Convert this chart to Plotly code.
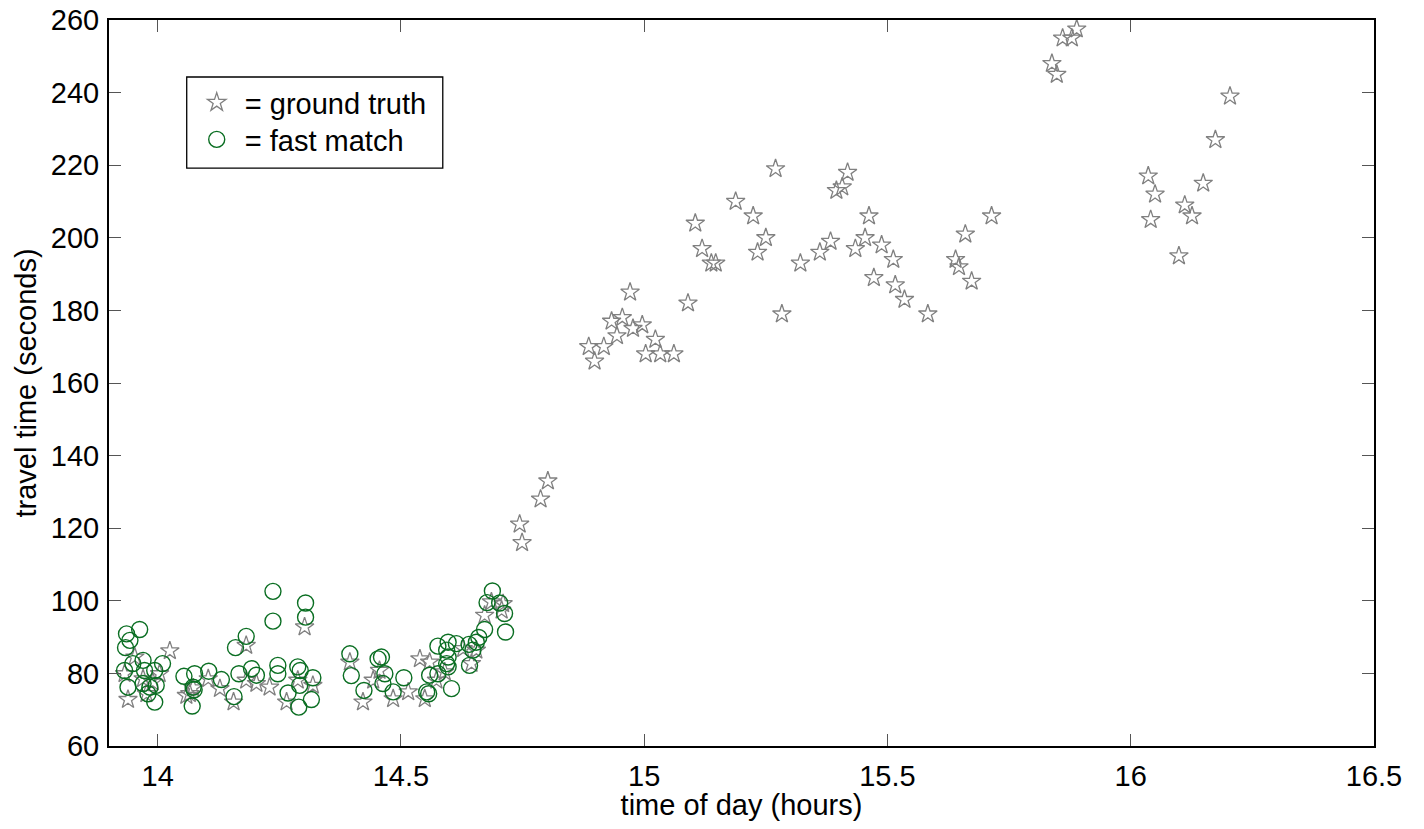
import plotly.graph_objects as go

# ground truth (stars)
gt_x = [13.932, 13.939, 13.953, 13.970, 13.977, 13.990, 14.004, 14.025, 14.059, 14.066,
        14.073, 14.104, 14.128, 14.156, 14.182, 14.182, 14.203, 14.230, 14.265, 14.288,
        14.302, 14.319, 14.395, 14.422, 14.443, 14.456, 14.484, 14.515, 14.539, 14.549,
        14.559, 14.573, 14.590, 14.628, 14.645, 14.655, 14.672, 14.686, 14.707, 14.710,
        14.744, 14.749, 14.787, 14.802,
        14.886, 14.898, 14.917, 14.933, 14.944, 14.955, 14.971, 14.977, 14.996, 15.003,
        15.023, 15.033, 15.061,
        15.090, 15.105, 15.119, 15.138, 15.147, 15.188, 15.224, 15.233, 15.250, 15.270,
        15.283, 15.321, 15.361, 15.383, 15.395, 15.407, 15.418, 15.434, 15.454, 15.462,
        15.472, 15.488, 15.512, 15.516, 15.535, 15.583, 15.640, 15.647, 15.660, 15.673,
        15.714,
        15.838, 15.848, 15.860, 15.879, 15.889,
        16.036, 16.041, 16.050, 16.099, 16.111, 16.126, 16.149, 16.174, 16.204]
gt_y = [79.9, 72.8, 84.5, 78.5, 74.4, 77.6, 79.9, 86.2, 73.9, 74.4,
        76.0, 78.5, 75.8, 72.1, 87.7, 78.1, 77.2, 76.2, 72.1, 78.1,
        92.8, 76.7, 83.1, 72.1, 78.1, 80.8, 73.0, 74.9, 84.0, 73.0,
        83.1, 78.1, 80.4, 86.8, 82.7, 86.4, 96.0, 99.7, 97.4, 99.2,
        121.1, 116.0, 128.0, 133.0,
        170, 166, 170, 177, 173, 178, 185, 175, 176, 168,
        172, 168, 168,
        182, 204, 197, 193, 193, 210, 206, 196, 200, 219,
        179, 193, 196, 199, 213, 214, 218, 197, 200, 206,
        189, 198, 194, 187, 183, 179, 194, 192, 201, 188,
        206,
        248, 245, 255, 255, 257.5,
        217, 205, 212, 195, 209, 206, 215, 227, 239]

# fast match (circles)
fm_x = [13.932, 13.934, 13.936, 13.939, 13.943, 13.949, 13.963, 13.970, 13.970, 13.973,
        13.980, 13.984, 13.994, 13.994, 13.997, 14.010, 14.054, 14.071, 14.073, 14.075,
        14.076, 14.105, 14.131, 14.157, 14.160, 14.167, 14.182, 14.193, 14.203, 14.237,
        14.237, 14.247, 14.247, 14.268, 14.288, 14.290, 14.292, 14.293, 14.304, 14.304,
        14.316, 14.319, 14.395, 14.398, 14.424, 14.453, 14.460, 14.463, 14.467, 14.484,
        14.506, 14.553, 14.557, 14.559, 14.576, 14.576, 14.594, 14.594, 14.597, 14.597,
        14.597, 14.604, 14.614, 14.640, 14.641, 14.648, 14.655, 14.660, 14.672, 14.677,
        14.688, 14.703, 14.713, 14.715]
fm_y = [80.8, 87.1, 90.9, 76.2, 89.1, 82.7, 92.1, 83.6, 77.2, 80.8,
        74.4, 76.2, 80.8, 72.1, 76.7, 82.7, 79.2, 71.0, 76.2, 75.5,
        79.9, 80.6, 78.3, 73.6, 87.1, 79.9, 90.2, 81.3, 79.5, 102.6,
        94.4, 82.2, 79.9, 74.6, 81.8, 70.7, 76.7, 80.8, 99.4, 95.5,
        72.8, 78.8, 85.4, 79.4, 75.3, 84.0, 84.5, 77.2, 79.9, 74.9,
        78.8, 74.9, 74.4, 79.5, 79.9, 87.5, 86.4, 82.7, 88.6, 84.5,
        81.8, 75.8, 88.2, 88.0, 82.2, 86.4, 88.6, 89.9, 92.1, 99.5,
        102.7, 99.4, 96.5, 91.4]

x_ticks = [14, 14.5, 15, 15.5, 16, 16.5]
x_labels = ["14", "14.5", "15", "15.5", "16", "16.5"]
y_ticks = [60, 80, 100, 120, 140, 160, 180, 200, 220, 240, 260]

FONT = "Arial, Liberation Sans, sans-serif"
FS = 29

# page geometry (browser adds an 8px body margin)
BODY = 8
W, H = 1408, 813
X0, X1, Y0, Y1 = 109.3, 1374.0, 20.0, 745.7   # plot area in page pixels
ML = X0 - BODY
MR = BODY + W - X1
MT = Y0 - BODY
MB = BODY + H - Y1


def px_x(p):
    return (p - X0) / (X1 - X0)


def px_y(p):
    return (Y1 - p) / (Y1 - Y0)


fig = go.Figure()
fig.add_trace(go.Scatter(
    x=gt_x, y=gt_y, mode="markers", name="\u00a0= ground truth", legend="legend",
    marker=dict(symbol="star-open", size=14, color="#808080", line=dict(width=1.3, color="#808080")),
))
fig.add_trace(go.Scatter(
    x=fm_x, y=fm_y, mode="markers", name="\u00a0= fast match", legend="legend2",
    marker=dict(symbol="circle-open", size=16, color="#0a6e22", line=dict(width=1.4, color="#0a6e22")),
))

axis_common = dict(
    showgrid=False, zeroline=False, showline=True, linecolor="black", linewidth=2,
    mirror="ticks", ticks="inside", ticklen=12, tickwidth=1.3, tickcolor="#555555",
    tickfont=dict(family=FONT, size=FS, color="black"), automargin=False,
    ticklabeloverflow="allow",
)

fig.update_xaxes(range=[13.9, 16.5], tickvals=x_ticks, ticktext=x_labels, ticklabelstandoff=3,
                 title=dict(text="time of day (hours)", font=dict(family=FONT, size=FS, color="black"), standoff=0),
                 **axis_common)
fig.update_yaxes(range=[60, 260], tickvals=y_ticks, ticklabelstandoff=2,
                 title=dict(text="travel time (seconds)", font=dict(family=FONT, size=FS, color="black"), standoff=6),
                 **axis_common)

# legend frame
fig.add_shape(type="rect", xref="paper", yref="paper",
              x0=px_x(187), x1=px_x(443), y0=px_y(168), y1=px_y(77),
              line=dict(color="black", width=1.3), fillcolor="white", layer="above")

leg_common = dict(xanchor="left", yanchor="top", bgcolor="rgba(0,0,0,0)", borderwidth=0,
                  font=dict(family=FONT, size=FS, color="black"))

fig.update_layout(
    width=W, height=H,
    margin=dict(l=ML, r=MR, t=MT, b=MB, autoexpand=False),
    plot_bgcolor="white", paper_bgcolor="white",
    font=dict(family=FONT, size=FS, color="black"),
    showlegend=True,
    legend=dict(x=px_x(197), y=px_y(77), **leg_common),
    legend2=dict(x=px_x(197), y=px_y(114), **leg_common),
)

fig.write_html("out.html")
